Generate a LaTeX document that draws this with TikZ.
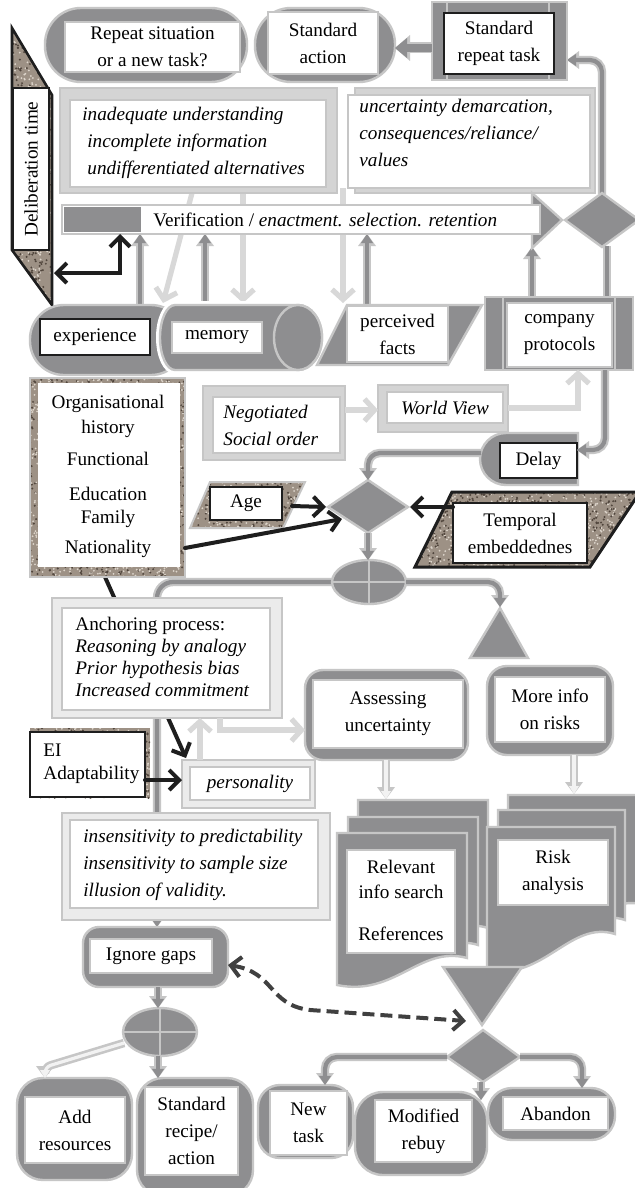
\documentclass[tikz,border=0pt]{standalone}
\usepackage{fontspec}
\setmainfont{Liberation Serif}
\usetikzlibrary{arrows.meta,fit}
\pgfdeclarelayer{paper}
\pgfdeclarelayer{background}
\pgfsetlayers{paper,background,main}
\newcommand\fs{\fontsize{9.6}{13.5}\selectfont}
\definecolor{dk}{HTML}{8E8E90}
\definecolor{lt}{HTML}{C6C6C6}
\definecolor{ltr}{HTML}{D8D8D8}
\definecolor{frm}{HTML}{D4D4D4}
\definecolor{frmlt}{HTML}{EBEBEB}
\definecolor{ink}{HTML}{1E1E1E}
\definecolor{granbg}{HTML}{9D9185}
\definecolor{grandk}{HTML}{51463D}
\definecolor{granlt}{HTML}{DDD5CB}
\definecolor{hollow}{HTML}{F2F2F2}
\tikzset{
  fitbox/.style={inner sep=0pt, outer sep=0pt},
  shp/.style={fitbox, fill=dk, draw=lt, line width=1.2pt},
  lbl/.style={fitbox, fill=white, draw=lt, line width=0.6pt},
  lblk/.style={fitbox, fill=white, draw=ink, line width=0.6pt},
  frame/.style={fitbox, fill=frm, draw=lt, line width=0.6pt},
  lframe/.style={fitbox, fill=frmlt, draw=lt, line width=0.8pt},
  halo/.style={draw=lt, line width=4.2pt},
  core/.style={draw=dk, line width=2.1pt},
  hcore/.style={draw=hollow, line width=1.6pt},
  lite/.style={draw=ltr, line width=2.6pt, -{Straight Barb[length=5pt,width=11pt]}},
  blk/.style={draw=ink, line width=2pt, line cap=round, -{Straight Barb[length=5pt,width=10pt]}},
  txt/.style={inner sep=0pt, font=\fs, align=center},
  ltxt/.style={inner sep=0pt, font=\fs, align=left, anchor=north west},
}
% two-tone connectors: light halo under a darker core
\newcommand\dline[2][]{\draw[halo,#1] #2; \draw[core,#1] #2;}
\newcommand\darrow[2][]{%
  \draw[halo,-{Triangle[length=6pt,width=9pt,line width=0pt]},#1] #2;
  \draw[core,-{Triangle[length=4.6pt,width=6.2pt,line width=0pt]},#1] #2;}
\newcommand\harrow[2][]{%
  \draw[halo,-{Triangle[length=6pt,width=9pt,line width=0pt]},#1] #2;
  \draw[hcore,-{Triangle[length=4pt,width=5pt,line width=0pt]},#1] #2;}
% speckled stone fill: #1 outline, #2..#5 its bounding box
\newcommand\granite[5]{%
  \begin{scope}
    \clip #1;
    \fill[granbg] #1;
    \pgfmathtruncatemacro\ndots{((#4-#2)/5)*((#5-#3)/3)}
    \foreach \k in {1,...,\ndots}{%
      \pgfmathsetmacro\gx{#2+rnd*(#4-#2)}%
      \pgfmathsetmacro\gy{#3+rnd*(#5-#3)}%
      \pgfmathsetmacro\gs{rnd}%
      \ifdim\gs pt<0.45pt
        \fill[grandk] (\gx,\gy) circle (0.55pt);
      \else
        \fill[granlt] (\gx,\gy) circle (0.5pt);
      \fi}
  \end{scope}}

\begin{document}
\begin{tikzpicture}[x=0.5pt,y=-0.5pt]
\pgfmathsetseed{4711}
\useasboundingbox (0,0) rectangle (634,1188);
\begin{pgfonlayer}{paper}
  \fill[white] (0,0) rectangle (634,1188);
\end{pgfonlayer}

% ---------------- top row ----------------
\node[shp, rounded corners=18pt, fit={(45,8)(247,82)}] (rpS) {};
\node[lbl, fit={(65,22)(240,72)}] (rpL) {};
\node[txt] at (rpL.center) {Repeat situation\\or a new task?};
\node[shp, rounded corners=18pt, fit={(255,8)(395,82)}] (saS) {};
\node[lbl, fit={(268,12)(378,74)}] (saL) {};
\node[txt] at (saL.center) {Standard\\action};
\node[shp, fit={(432,2)(567,80)}] (srS) {};
\draw[lt, line width=1pt] (447,2) -- (447,80) (549,2) -- (549,80);
\node[lblk, fit={(444,13)(554,74)}] (srL) {};
\node[txt] at (srL.center) {Standard\\repeat task};
\draw[halo, line width=5.5pt, -{Triangle[length=7.5pt,width=13pt,line width=0pt]}] (srS.west |- 0,48) -- (saS.east |- 0,48);
\draw[core, line width=4pt, -{Triangle[length=6pt,width=10pt,line width=0pt]}] (srS.west |- 0,48) -- (saS.east |- 0,48);

% ---------------- deliberation time ----------------
\granite{(12,28) -- (52,95) -- (52,305) -- (12,250) -- cycle}{12}{28}{52}{305}
\draw[ink, line width=1.3pt] (12,28) -- (52,95) -- (52,305) -- (12,250) -- cycle;
\node[lblk, fit={(13,88)(49,250)}] (delL) {};
\node[txt, rotate=90] at (delL.center) {Deliberation time};
\coordinate (delE) at (54,273);

% ---------------- problem boxes ----------------
\node[frame, fit={(60,88)(337,193)}] (inF) {};
\node[lbl, fit={(70,100)(326,187)}] (inL) {};
\node[ltxt, font=\fs\itshape] at (82,107) {inadequate understanding\\\hspace*{2.5pt}incomplete information\\\hspace*{2.5pt}undifferentiated alternatives};
\node[frame, fit={(355,88)(595,193)}] (unF) {};
\node[lbl, fit={(348,95)(590,188)}] (unL) {};
\node[ltxt, font=\fs\itshape] at (359,99) {uncertainty demarcation,\\consequences/reliance/\\values};

% ---------------- verification bar ----------------
\draw[shp] (532,193) -- (562,220) -- (532,248) -- cycle;
\node[fitbox, fill=white, draw=lt, line width=1.2pt, fit={(62,205)(540,234)}] (verif) {};
\fill[dk] (64,207) rectangle (141,232);
\node[txt, anchor=west] at (153,220) {Verification / \textit{enactment. selection. retention}};
\draw[shp] (565,220) -- (602,193) -- (639,220) -- (602,247) -- cycle;
\coordinate (rdN) at (602,194);
\coordinate (rdS) at (607,246);
\coordinate (triS) at (532,247);

% ---------------- sources row ----------------
\node[shp, rounded corners=17pt, fit={(30,305)(185,375)}] (exS) {};
\draw[shp, preaction={draw=white, line width=4pt}] (175,305) -- (298,305)
  arc[start angle=270, end angle=450, x radius=24, y radius=32.5] -- (175,370)
  arc[start angle=90, end angle=270, x radius=15, y radius=32.5] -- cycle;
\draw[shp] (298,337.5) ellipse [x radius=24, y radius=32.5];
\coordinate (memN) at (205,305);
\node[lblk, fit={(40,319)(150,355)}] (exL) {};
\node[txt] at (exL.center) {experience};
\node[lbl, fit={(172,322)(262,353)}] (meL) {};
\node[txt] at (meL.center) {memory};
\draw[shp] (317,365) -- (347,305) -- (482,305) -- (448,365) -- cycle;
\coordinate (pfN) at (367,305);
\coordinate (pfNW) at (343,303);
\node[lbl, fit={(347,306)(448,362)}] (pfL) {};
\node[txt] at (pfL.center) {perceived\\facts};
\node[shp, fit={(485,297)(633,370)}] (cpS) {};
\draw[lt, line width=1pt] (503,297) -- (503,370) (615,297) -- (615,370);
\node[lbl, fit={(507,303)(612,367)}] (cpL) {};
\node[txt] at (cpL.center) {company\\protocols};

% ---------------- background factors ----------------
\granite{(30,378) rectangle (185,577)}{30}{378}{185}{577}
\node[fitbox, draw=lt, line width=1.2pt, fit={(30,378)(185,577)}] (orS) {};
\node[fitbox, fill=white, fit={(38,383)(180,567)}] (orL) {};
\node[txt, anchor=base] at (108,408) {Organisational};
\node[txt, anchor=base] at (108,433) {history};
\node[txt, anchor=base] at (108,465) {Functional};
\node[txt, anchor=base] at (108,500) {Education};
\node[txt, anchor=base] at (108,523) {Family};
\node[txt, anchor=base] at (108,553) {Nationality};

\node[frame, fit={(203,386)(345,460)}] (ngF) {};
\node[lbl, fit={(213,397)(340,453)}] (ngL) {};
\node[ltxt, font=\fs\itshape] at (223,405) {Negotiated\\Social order};
\node[frame, fit={(378,385)(508,432)}] (wvF) {};
\node[lbl, fit={(387,392)(503,423)}] (wvL) {};
\node[txt, font=\fs\itshape] at (wvL.center) {World View};

\draw[shp] (578,433) -- (506,433) arc[start angle=270, end angle=90, radius=26] -- (578,485) -- cycle;
\coordinate (dlW) at (481,453);
\node[lblk, fit={(500,443)(577,478)}] (dlL) {};
\node[txt] at (dlL.center) {Delay};

% central decision
\draw[shp] (328,507) -- (368,480) -- (408,507) -- (368,533) -- cycle;
\coordinate (cdW) at (326,507);
\coordinate (cdN) at (368,480);
\coordinate (cdE) at (410,507);
\coordinate (cdS) at (368,533);
\coordinate (cdSW) at (342,519);

\granite{(190,528) -- (210,482) -- (305,482) -- (283,528) -- cycle}{190}{482}{305}{528}
\draw[lt, line width=1pt] (190,528) -- (210,482) -- (305,482) -- (283,528) -- cycle;
\node[lblk, fit={(210,487)(282,520)}] (agL) {};
\node[txt] at (agL.center) {Age};
\coordinate (agE) at (292,506);

\granite{(415,567) -- (452,492) -- (640,492) -- (590,567) -- cycle}{415}{492}{634}{567}
\draw[ink, line width=1.5pt] (415,567) -- (452,492) -- (640,492) -- (590,567) -- cycle;
\node[lblk, fit={(453,503)(587,563)}] (tmL) {};
\node[txt] at (tmL.center) {Temporal\\embeddednes};

% summing junction
\draw[shp] (369,582) ellipse [x radius=37, y radius=22];
\draw[lt, line width=1pt] (332,582) -- (406,582) (369,560) -- (369,604);
\coordinate (ejW) at (332,582);
\coordinate (ejE) at (406,582);
\coordinate (ejN) at (368,560);

\draw[shp] (500,608) -- (528,658) -- (470,658) -- cycle;
\coordinate (trN) at (500,607);

% ---------------- heuristics ----------------
\node[lframe, fit={(52,598)(282,718)}] (anF) {};
\node[lbl, fit={(62,608)(270,710)}] (anL) {};
\node[ltxt, font=\fontsize{9.6}{11}\selectfont] at (75,617) {Anchoring process:\\\textit{Reasoning by analogy}\\\textit{Prior hypothesis bias}\\\textit{Increased commitment}};

\node[lframe, fit={(182,760)(315,808)}] (peF) {};
\node[lbl, fit={(190,767)(310,800)}] (peL) {};
\node[txt, font=\fs\itshape] at (peL.center) {personality};

\granite{(30,728) rectangle (150,798)}{30}{728}{150}{798}
\node[lblk, fit={(30,732)(145,797)}] (eiL) {};
\node[ltxt, font=\fontsize{9.6}{11.5}\selectfont] at (43,744) {EI\\Adaptability};

\node[lframe, fit={(62,813)(330,920)}] (isF) {};
\node[lbl, fit={(70,820)(318,908)}] (isL) {};
\node[ltxt, font=\fs\itshape] at (83,829) {insensitivity to predictability\\insensitivity to sample size\\illusion of validity.};

% ---------------- information search ----------------
\node[shp, rounded corners=9pt, fit={(305,670)(468,760)}] (asS) {};
\node[lbl, fit={(313,680)(463,748)}] (asL) {};
\node[txt] at (asL.center) {Assessing\\uncertainty};
\node[shp, rounded corners=10pt, fit={(487,666)(613,755)}] (miS) {};
\node[lbl, fit={(495,677)(605,742)}] (miL) {};
\node[txt] at (miL.center) {More info\\on risks};

\draw[shp] (358,800) -- (488,800) -- (488,928) .. controls (448,915) and (420,965) .. (358,955) -- cycle;
\draw[shp] (348,817) -- (478,817) -- (478,945) .. controls (438,932) and (410,982) .. (348,972) -- cycle;
\draw[shp] (337,833) -- (467,833) -- (467,958) .. controls (420,945) and (395,997) .. (337,985) -- cycle;
\node[lbl, fit={(347,850)(455,953)}] (riL) {};
\node[txt, anchor=base] at (401,873) {Relevant};
\node[txt, anchor=base] at (401,898) {info search};
\node[txt, anchor=base] at (401,940) {References};

\draw[shp] (508,795) -- (645,795) -- (645,905) .. controls (600,892) and (575,948) .. (508,942) -- cycle;
\draw[shp] (498,810) -- (625,810) -- (625,920) .. controls (585,906) and (560,962) .. (498,956) -- cycle;
\draw[shp] (487,827) -- (615,827) -- (615,934) .. controls (570,920) and (545,980) .. (487,971) -- cycle;
\node[lbl, fit={(498,840)(608,905)}] (raL) {};
\node[txt] at (raL.center) {Risk\\analysis};

\draw[shp] (443,967) -- (522,967) -- (482,1025) -- cycle;
\coordinate (mgS) at (466,1021);
\draw[shp] (447,1057) -- (483,1030) -- (520,1057) -- (483,1082) -- cycle;
\coordinate (bdW) at (447,1057);
\coordinate (bdE) at (520,1057);
\coordinate (bdS) at (481,1082);

% ---------------- outcomes ----------------
\node[shp, rounded corners=8pt, fit={(83,927)(228,987)}] (igS) {};
\node[lbl, fit={(90,939)(212,973)}] (igL) {};
\node[txt] at (igL.center) {Ignore gaps};
\draw[shp] (160,1032) ellipse [x radius=37, y radius=24];
\draw[lt, line width=1pt] (123,1032) -- (197,1032) (160,1008) -- (160,1056);
\coordinate (bjN) at (158,1008);
\coordinate (bjS) at (158,1056);
\coordinate (bjW) at (124,1043);

\node[shp, rounded corners=13pt, fit={(17,1078)(132,1180)}] (arS) {};
\node[lbl, fit={(25,1097)(125,1163)}] (arL) {};
\node[txt] at (arL.center) {Add\\resources};
\node[shp, rounded corners=13pt, fit={(137,1078)(253,1196)}] (stS) {};
\node[lbl, fit={(145,1087)(238,1175)}] (stL) {};
\node[txt] at (stL.center) {Standard\\recipe/\\action};
\node[shp, rounded corners=11pt, fit={(258,1085)(353,1158)}] (ntS) {};
\node[lbl, fit={(270,1091)(347,1155)}] (ntL) {};
\node[txt] at (ntL.center) {New\\task};
\node[shp, rounded corners=14pt, fit={(355,1092)(487,1175)}] (mrS) {};
\node[lbl, fit={(375,1100)(472,1162)}] (mrL) {};
\node[txt] at (mrL.center) {Modified\\rebuy};
\node[shp, rounded corners=12pt, fit={(488,1088)(615,1140)}] (abS) {};
\node[lbl, fit={(503,1097)(608,1130)}] (abL) {};
\node[txt] at (abL.center) {Abandon};

% ---------------- connectors ----------------
\begin{pgfonlayer}{background}
  \draw[lite] (192,193) -- (163,303);
  \draw[lite] (inF.south -| 243,0) -- (243,303);
  \draw[lite] (unL.south -| 343,0) -- (pfNW);
  \darrow{(exS.north -| 140,0) -- (verif.south -| 140,0)}
  \darrow{(memN) -- (verif.south -| 205,0)}
  \darrow{(pfN) -- (verif.south -| 367,0)}
  \darrow[rounded corners=6pt]{(rdN) |- (srS.east |- 0,60)}
  \darrow{(cpS.north -| 532,0) -- (triS)}
  \dline{(cpS.north -| 607,0) -- (rdS)}
  \darrow[rounded corners=8pt]{(ejW) -| (igS.north -| 157,0)}
  \draw[blk] (105,577) -- (186,758);
\end{pgfonlayer}

\draw[blk, {Straight Barb[length=5pt,width=10pt]}-{Straight Barb[length=5pt,width=10pt]}] (delE) -| (verif.south -| 120,0);

\draw[lite] (ngF.east |- 0,410) -- (wvF.west |- 0,410);
\draw[lite] (wvF.east |- 0,408) -| (cpS.south -| 578,0);
\darrow[rounded corners=6pt]{(cpS.south -| 605,0) |- (dlL.east |- 0,450)}
\darrow[rounded corners=6pt]{(dlW) -| (cdN)}
\draw[blk] (agE) -- (cdW);
\draw[blk] (orS.east |- 0,548) -- (cdSW);
\draw[blk] (tmL.west |- 0,507) -- (cdE);
\darrow{(cdS) -- (ejN)}
\darrow[rounded corners=6pt]{(ejE) -| (trN)}

\draw[blk] (eiL.east |- 0,780) -- (peF.west |- 0,780);
\draw[lite] (peF.north -| 200,0) -- (anF.south -| 200,0);
\draw[lite] (anF.south -| 220,0) |- (asS.west |- 0,730);
\harrow{(asS.south -| 386,0) -- (386,799)}
\harrow{(miS.south -| 574,0) -- (574,794)}

\darrow{(igS.south -| 158,0) -- (bjN)}
\darrow{(bjS) -- (stS.north -| 158,0)}
\harrow[rounded corners=3pt]{(bjW) -- (45,1067) -- (arS.north -| 45,0)}
\darrow[rounded corners=6pt]{(bdW) -| (ntS.north -| 325,0)}
\darrow{(bdS) -- (mrL.north -| 481,0)}
\darrow[rounded corners=6pt]{(bdE) -| (abS.north -| 582,0)}

\draw[ink!85, line width=2pt, dash pattern=on 6pt off 3pt,
  {Straight Barb[length=5pt,width=10pt]}-{Straight Barb[length=5pt,width=10pt]}]
  (igS.east |- 0,965) .. controls (275,972) and (268,1005) .. (310,1010) -- (mgS);
\end{tikzpicture}
\end{document}
